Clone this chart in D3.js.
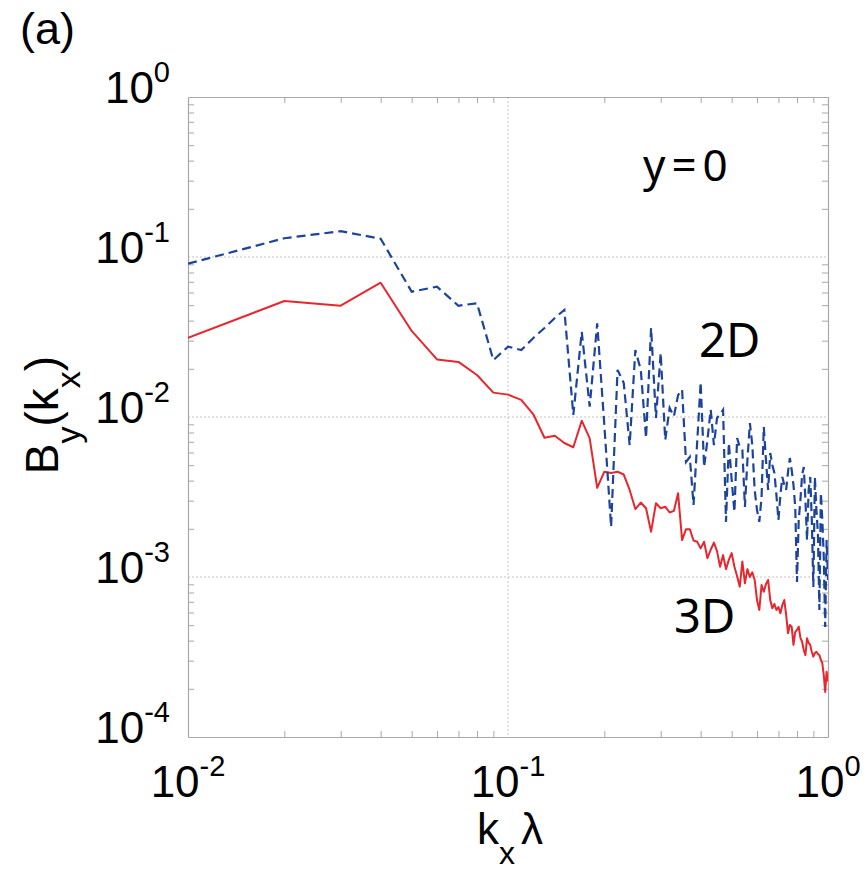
<!DOCTYPE html>
<html>
<head>
<meta charset="utf-8">
<script src="https://cdn.jsdelivr.net/npm/d3@7"></script>
<style>
  body { margin: 0; background: #fff; }
  svg { display: block; }
</style>
</head>
<body>
<svg id="chart" width="868" height="872"></svg>
<script>
// Wavenumber grid k_x·λ
const kx = [
  0.01, 0.02, 0.03, 0.04, 0.05, 0.06, 0.07, 0.08, 0.09, 0.10,
  0.11, 0.12, 0.13, 0.14, 0.15, 0.16, 0.17, 0.18, 0.19, 0.20,
  0.21, 0.22, 0.23, 0.24, 0.25, 0.26, 0.27, 0.28, 0.29, 0.30,
  0.31, 0.32, 0.33, 0.34, 0.35, 0.36, 0.37, 0.38, 0.39, 0.40,
  0.41, 0.42, 0.43, 0.44, 0.45, 0.46, 0.47, 0.48, 0.49, 0.50,
  0.51, 0.52, 0.53, 0.54, 0.55, 0.56, 0.57, 0.58, 0.59, 0.60,
  0.61, 0.62, 0.63, 0.64, 0.65, 0.66, 0.67, 0.68, 0.69, 0.70,
  0.71, 0.72, 0.73, 0.74, 0.75, 0.76, 0.77, 0.78, 0.79, 0.80,
  0.81, 0.82, 0.83, 0.84, 0.85, 0.86, 0.87, 0.88, 0.89, 0.90,
  0.91, 0.92, 0.93, 0.94, 0.95, 0.96, 0.97, 0.98, 0.99, 1.00
];

// B_y(k_x) spectrum at y=0, two-dimensional run (dashed)
const by2D = [
  0.0908, 0.131, 0.145, 0.130, 0.0607, 0.0652, 0.0496, 0.0514, 0.0227, 0.0275,
  0.0262, 0.0312, 0.0360, 0.0416, 0.0467, 0.0103, 0.0341, 0.0116, 0.0385, 0.00891,
  0.00206, 0.0197, 0.0163, 0.00668, 0.0262, 0.0197, 0.00739, 0.0360, 0.00986, 0.0251,
  0.00718, 0.0114, 0.0101, 0.0137, 0.0148, 0.00523, 0.00562, 0.00282, 0.00688, 0.0165,
  0.00487, 0.00718, 0.0111, 0.00668, 0.00986, 0.0104, 0.0111, 0.00221, 0.00688, 0.00404,
  0.00255, 0.00739, 0.00649, 0.00622, 0.00274, 0.00538, 0.00917, 0.00668, 0.00350, 0.00262,
  0.00221, 0.00316, 0.00866, 0.00538, 0.00350, 0.00596, 0.00501, 0.00447, 0.00325, 0.00227,
  0.00325, 0.00422, 0.00376, 0.00350, 0.00453, 0.00554, 0.00467, 0.00376, 0.00274, 0.000931,
  0.00227, 0.00303, 0.00434, 0.00487, 0.00303, 0.00170, 0.00350, 0.00422, 0.00227, 0.000866,
  0.00422, 0.00262, 0.00188, 0.000622, 0.00335, 0.00227, 0.00133, 0.000487, 0.00170, 0.000958
];

// B_y(k_x) spectrum at y=0, three-dimensional run (solid)
const by3D = [
  0.0312, 0.0531, 0.0496, 0.0691, 0.0345, 0.0229, 0.0221, 0.0183, 0.0142, 0.0138,
  0.0128, 0.0104, 0.00742, 0.00764, 0.00688, 0.00647, 0.00948, 0.00736, 0.00361, 0.00455,
  0.00447, 0.00455, 0.00437, 0.00350, 0.00266, 0.00292, 0.00269, 0.00192, 0.00289, 0.00269,
  0.00275, 0.00253, 0.00259, 0.00334, 0.00170, 0.00199, 0.00199, 0.00169, 0.00166, 0.00151,
  0.00166, 0.00131, 0.00148, 0.00164, 0.00145, 0.00116, 0.00137, 0.00112, 0.00128, 0.00141,
  0.00116, 0.00101, 0.000870, 0.00125, 0.000913, 0.00112, 0.00100, 0.00107, 0.000958, 0.000718,
  0.000622, 0.000891, 0.000809, 0.000904, 0.000958, 0.000718, 0.000637, 0.000678, 0.000622, 0.000649,
  0.000593, 0.000668, 0.000718, 0.000579, 0.000445, 0.000501, 0.000489, 0.000376, 0.000453, 0.000467,
  0.000489, 0.000416, 0.000394, 0.000350, 0.000325, 0.000414, 0.000387, 0.000376, 0.000340, 0.000318,
  0.000335, 0.000341, 0.000330, 0.000325, 0.000303, 0.000289, 0.000244, 0.000191, 0.000256, 0.000222
];

// Decade ticks and their exponent labels
const xMajor = [0.01, 0.1, 1];
const xMajorExp = ["-2", "-1", "0"];
const yMajor = [1e-4, 1e-3, 1e-2, 1e-1, 1];
const yMajorExp = ["-4", "-3", "-2", "-1", "0"];

const svg = d3.select("#chart");
const plotL = 188, plotR = 828, plotT = 97, plotB = 737;

const x = d3.scaleLog().domain([0.01, 1]).range([plotL, plotR]);
const y = d3.scaleLog().domain([1e-4, 1]).range([plotB, plotT]);

// minor ticks 2..9 within each decade
function minors(lo, hi) {
  const out = [];
  for (let e = lo; e < hi; e++) {
    for (let m = 2; m <= 9; m++) out.push(m * Math.pow(10, e));
  }
  return out;
}
const xMinor = minors(-2, 0);
const yMinor = minors(-4, 0);

const frameColor = "#a8a8a8";
const gridColor = "#c4c4c4";

// dotted grid at interior decades
const grid = svg.append("g");
grid.selectAll("line.gx")
  .data(xMajor.slice(1, -1))
  .join("line")
  .attr("x1", d => x(d)).attr("x2", d => x(d))
  .attr("y1", plotT).attr("y2", plotB)
  .attr("stroke", gridColor).attr("stroke-width", 1)
  .attr("stroke-dasharray", "2,2");
grid.selectAll("line.gy")
  .data(yMajor.slice(1, -1))
  .join("line")
  .attr("y1", d => y(d)).attr("y2", d => y(d))
  .attr("x1", plotL).attr("x2", plotR)
  .attr("stroke", gridColor).attr("stroke-width", 1)
  .attr("stroke-dasharray", "2,2");

// inward minor ticks on all four sides
function styleAxis(g) {
  g.selectAll("path.domain").attr("stroke", frameColor).attr("stroke-width", 1.2);
  g.selectAll(".tick line").attr("stroke", frameColor).attr("stroke-width", 1);
  g.selectAll(".tick text").remove();
}
svg.append("g").attr("transform", `translate(0,${plotB})`)
  .call(d3.axisBottom(x).tickValues(xMinor).tickSize(-6).tickSizeOuter(0).tickFormat(""))
  .call(styleAxis);
svg.append("g").attr("transform", `translate(0,${plotT})`)
  .call(d3.axisTop(x).tickValues(xMinor).tickSize(-6).tickSizeOuter(0).tickFormat(""))
  .call(styleAxis);
svg.append("g").attr("transform", `translate(${plotL},0)`)
  .call(d3.axisLeft(y).tickValues(yMinor).tickSize(-6).tickSizeOuter(0).tickFormat(""))
  .call(styleAxis);
svg.append("g").attr("transform", `translate(${plotR},0)`)
  .call(d3.axisRight(y).tickValues(yMinor).tickSize(-6).tickSizeOuter(0).tickFormat(""))
  .call(styleAxis);

// spectra
const line = d3.line().x(d => x(d[0])).y(d => y(d[1]));
svg.append("clipPath").attr("id", "plotClip")
  .append("rect").attr("x", plotL).attr("y", plotT)
  .attr("width", plotR - plotL).attr("height", plotB - plotT);

const plot = svg.append("g").attr("clip-path", "url(#plotClip)");
plot.append("path")
  .datum(d3.zip(kx, by3D))
  .attr("d", line)
  .attr("fill", "none")
  .attr("stroke", "#e8262d")
  .attr("stroke-width", 2)
  .attr("stroke-linejoin", "round");
plot.append("path")
  .datum(d3.zip(kx, by2D))
  .attr("d", line)
  .attr("fill", "none")
  .attr("stroke", "#1c449c")
  .attr("stroke-width", 2.2)
  .attr("stroke-dasharray", "9,5");

// tick labels: 10 with superscript exponent
const tickFont = "'Liberation Sans', Arial, sans-serif";
xMajor.forEach((v, i) => {
  const t = svg.append("text")
    .attr("x", x(v)).attr("y", 797)
    .attr("text-anchor", "middle")
    .attr("font-family", tickFont)
    .attr("fill", "#000");
  t.append("tspan").attr("font-size", 44).text("10");
  t.append("tspan").attr("font-size", 29).attr("dy", -21).text(xMajorExp[i]);
});
yMajor.forEach((v, i) => {
  const t = svg.append("text")
    .attr("x", 170).attr("y", y(v) + 6)
    .attr("text-anchor", "end")
    .attr("font-family", tickFont)
    .attr("fill", "#000");
  t.append("tspan").attr("font-size", 44).text("10");
  t.append("tspan").attr("font-size", 29).attr("dy", -21).text(yMajorExp[i]);
});

// axis titles
const xt = svg.append("text")
  .attr("x", 477).attr("y", 844)
  .attr("font-family", tickFont).attr("fill", "#000");
xt.append("tspan").attr("font-size", 44).text("k");
xt.append("tspan").attr("font-size", 32).attr("dy", 20).text("x");
xt.append("tspan").attr("font-size", 44).attr("dy", -20).attr("dx", 6).text("λ");

const yt = svg.append("text")
  .attr("transform", "translate(58,415) rotate(-90)")
  .attr("text-anchor", "middle")
  .attr("font-family", tickFont).attr("fill", "#000");
yt.append("tspan").attr("font-size", 46).text("B");
yt.append("tspan").attr("font-size", 34).attr("dy", 22).text("y");
yt.append("tspan").attr("font-size", 46).attr("dy", -22).text("(k");
yt.append("tspan").attr("font-size", 34).attr("dy", 22).text("x");
yt.append("tspan").attr("font-size", 46).attr("dy", -22).text(")");

// annotations
const annFont = "'Noto Sans', 'Noto Sans CJK JP', sans-serif";
svg.append("text").attr("x", 20).attr("y", 44)
  .attr("font-family", tickFont)
  .attr("font-size", 45).attr("fill", "#000").text("(a)");
svg.append("text").attr("x", 643).attr("y", 181)
  .attr("font-family", annFont).attr("font-size", 44)
  .attr("letter-spacing", 6).attr("fill", "#000").text("y=0");
svg.append("text").attr("x", 699).attr("y", 357)
  .attr("font-family", annFont).attr("font-size", 47).attr("fill", "#000").text("2D");
svg.append("text").attr("x", 674).attr("y", 633)
  .attr("font-family", annFont).attr("font-size", 47).attr("fill", "#000").text("3D");
</script>
</body>
</html>
